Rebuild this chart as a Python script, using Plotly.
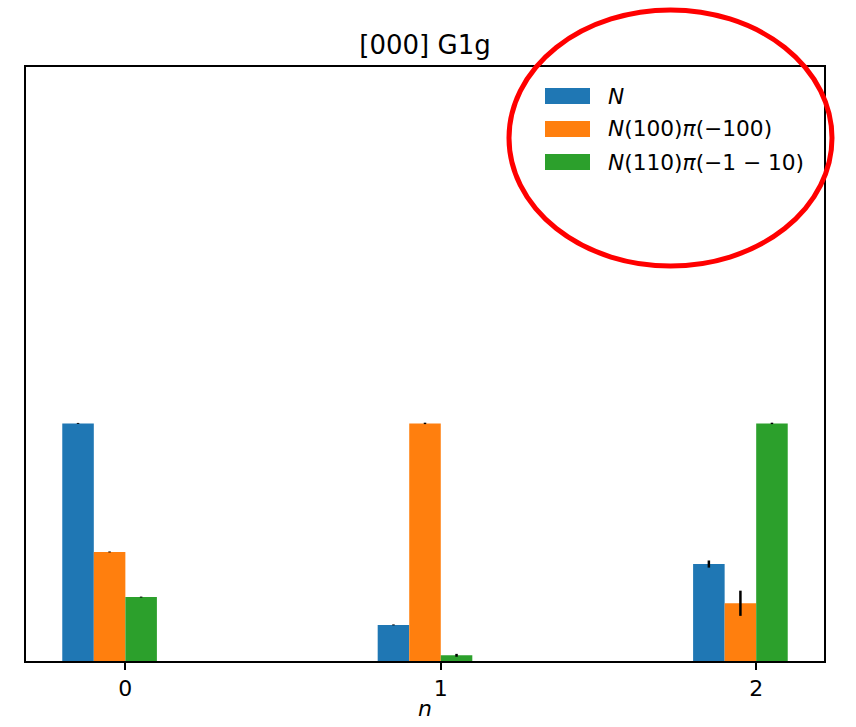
import plotly.graph_objects as go

# Overlap weights per operator at each state index n
states = [0, 1, 2]
series_names = ["N", "N(100)π(−100)", "N(110)π(−1 − 10)"]
legend_labels = ["<i>N</i>", "<i>N</i>(100)<i>π</i>(−100)", "<i>N</i>(110)<i>π</i>(−1 − 10)"]
vals_N = [1.0, 0.152, 0.408]
vals_N100 = [0.459, 1.0, 0.243]
vals_N110 = [0.269, 0.024, 1.0]
err_N = [0.002, 0.002, 0.015]
err_N100 = [0.002, 0.003, 0.053]
err_N110 = [0.002, 0.006, 0.003]

colors = ["#1f77b4", "#ff7f0e", "#2ca02c"]
values = [vals_N, vals_N100, vals_N110]
errors = [err_N, err_N100, err_N110]
bar_w = 0.1
shifts = [-1.5 * bar_w, -0.5 * bar_w, 0.5 * bar_w]

FONT = "DejaVu Sans"

fig = go.Figure()
for name, col, v, e, s in zip(series_names, colors, values, errors, shifts):
    fig.add_trace(go.Bar(
        x=[n + s for n in states], y=v, width=bar_w, name=name,
        marker=dict(color=col, line=dict(width=0)),
        error_y=dict(type="data", array=e, visible=True, color="black",
                     thickness=2.5, width=0),
        showlegend=False,
    ))

# Legend drawn as swatches + labels in the upper right of the axes
W, H = 856, 727
ml, mr, mt, mb = 26, 32, 67, 66
pw, ph = W - ml - mr, H - mt - mb
def px_x(x):
    return (x - ml) / pw
def px_y(y):
    return (H - mb - y) / ph

shapes = []
annotations = []
for i, (lab, col) in enumerate(zip(legend_labels, colors)):
    yc = 96 + 33 * i
    shapes.append(dict(type="rect", xref="paper", yref="paper",
                       x0=px_x(545), x1=px_x(590), y0=px_y(yc + 8), y1=px_y(yc - 8),
                       fillcolor=col, line=dict(width=0)))
    annotations.append(dict(xref="paper", yref="paper", x=px_x(606), y=px_y(yc),
                            xanchor="left", yanchor="middle", showarrow=False,
                            text=lab, font=dict(family=FONT, size=21.7, color="black")))

# x-axis label
annotations.append(dict(xref="paper", yref="paper", x=0.5, y=px_y(708),
                        xanchor="center", yanchor="middle", showarrow=False,
                        text="<i>n</i>", font=dict(family=FONT, size=22, color="black")))

# Red ellipse highlighting the legend
shapes.append(dict(type="circle", xref="paper", yref="paper",
                   x0=px_x(509), x1=px_x(832), y0=px_y(266), y1=px_y(10),
                   line=dict(color="#ff0000", width=5)))

fig.update_layout(
    width=W, height=H,
    margin=dict(l=ml, r=mr, t=mt, b=mb, autoexpand=False),
    paper_bgcolor="white", plot_bgcolor="white",
    barmode="overlay",
    title=dict(text="[000] G1g", x=425 / W, xanchor="center", y=1 - 45 / H,
               yanchor="middle", font=dict(family=FONT, size=26, color="black")),
    xaxis=dict(range=[-0.315, 2.215], tickvals=states, ticktext=[str(s) for s in states],
               automargin=False,
               showline=True, mirror=True, linecolor="black", linewidth=1.5,
               ticks="outside", ticklen=7, tickwidth=1.5, tickcolor="black",
               showgrid=False, zeroline=False,
               tickfont=dict(family=FONT, size=22, color="black")),
    yaxis=dict(range=[0, 2.5], showticklabels=False, ticks="", automargin=False,
               showline=True, mirror=True, linecolor="black", linewidth=1.5,
               showgrid=False, zeroline=False),
    shapes=shapes,
    annotations=annotations,
    font=dict(family=FONT),
)

fig.write_html("out.html")
